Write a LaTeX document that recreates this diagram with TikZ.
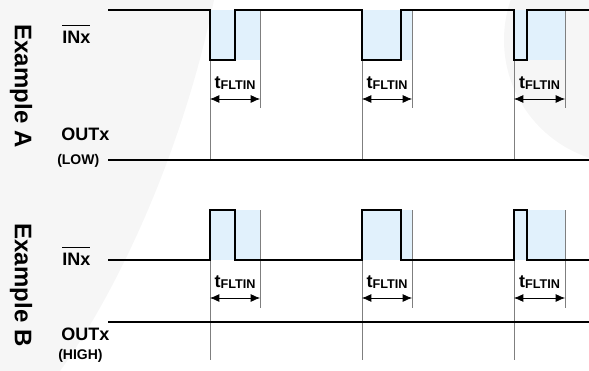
\documentclass[tikz,border=0pt]{standalone}
\usepackage{fontspec}
\setmainfont{Liberation Sans}
\usetikzlibrary{arrows.meta, positioning}

\definecolor{filtblue}{HTML}{E1F1FC}
\definecolor{markgray}{HTML}{F6F6F6}
\definecolor{guidegray}{HTML}{7F7F7F}

\newcommand{\tfltin}{\fontsize{13.5}{13.5}\selectfont t\raisebox{-1pt}{\fontsize{9.5}{10}\selectfont FLTIN}}
\newcommand{\barsig}[1]{$\overline{\mbox{\rule{0pt}{0.86em}#1}}$}

\begin{document}
\begin{tikzpicture}[
	x=0.75pt, y=-0.75pt,
	wave/.style={line width=1.5pt},
	guide/.style={guidegray, line width=0.5pt},
	dim/.style={{Latex[length=7pt,width=6pt]}-{Latex[length=7pt,width=6pt]}, line width=0.6pt},
	sig/.style={font=\fontsize{13.5}{13.5}\selectfont\bfseries, anchor=base west, inner sep=0pt},
	lvl/.style={font=\fontsize{10.5}{10.5}\selectfont\bfseries, anchor=base west, inner sep=0pt},
	title/.style={font=\fontsize{18}{18}\selectfont\bfseries, rotate=-90},
	tlabel/.style={font=\bfseries, inner sep=0pt}
]
\useasboundingbox (0,0) rectangle (589,371);
% faint watermark
\begin{scope}
\clip (0,0) rectangle (589,371);
\fill[markgray] (0,0) -- (214,0) .. controls (185,140) and (125,280) .. (60,371) -- (0,371) -- cycle;
\fill[markgray] (628,40) circle[radius=124];
\end{scope}

% filter windows, guides and t_FLTIN spans
\foreach \s/\e [count=\i] in {210/260, 362/412, 514/565} {
	\fill[filtblue] (\s,10) rectangle (\e,60);
	\fill[filtblue] (\s,210) rectangle (\e,260);
	\draw[guide] (\s,10) -- (\s,160);
	\draw[guide] (\e,10) -- (\e,108);
	\draw[guide] (\s,210) -- (\s,360);
	\draw[guide] (\e,210) -- (\e,308);
	\coordinate (aL\i) at (\s,99);
	\coordinate (aR\i) at (\e,99);
	\coordinate (bL\i) at (\s,298);
	\coordinate (bR\i) at (\e,298);
	\draw[dim] (aL\i) -- (aR\i);
	\draw[dim] (bL\i) -- (bR\i);
	\node[tlabel] (tA\i) at ({(\s+\e)/2},83) {\tfltin};
	\node[tlabel] (tB\i) at ({(\s+\e)/2},282) {\tfltin};
}

% Example A
\draw[wave] (108,10) -- (210,10) -- (210,60) -- (235,60) -- (235,10)
	-- (362,10) -- (362,60) -- (401,60) -- (401,10)
	-- (514,10) -- (514,60) -- (527,60) -- (527,10) -- (589,10);
\draw[wave] (108,160) -- (589,160);

% Example B
\draw[wave] (108,260) -- (210,260) -- (210,210) -- (235,210) -- (235,260)
	-- (362,260) -- (362,210) -- (401,210) -- (401,260)
	-- (514,260) -- (514,210) -- (527,210) -- (527,260) -- (589,260);
\draw[wave] (108,322) -- (589,322);

% signal names
\node[sig] (inA) at (62,43) {\barsig{INx}};
\node[sig] (outA) at (61,140) {OUTx};
\node[lvl] (lowA) at (57,164) {(LOW)};
\node[sig] (inB) at (62,265) {\barsig{INx}};
\node[sig] (outB) at (61,340) {OUTx};
\node[lvl] (highB) at (58,359) {(HIGH)};
\node[title] (exA) at (21,86) {Example A};
\node[title] (exB) at (21,285) {Example B};
\end{tikzpicture}
\end{document}
